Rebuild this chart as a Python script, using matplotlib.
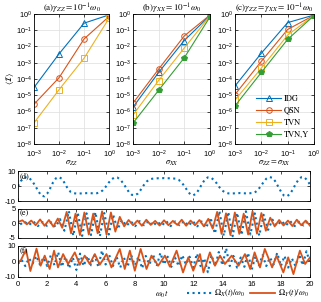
import numpy as np
import matplotlib
matplotlib.use("Agg")
import matplotlib.pyplot as plt
from matplotlib.ticker import NullLocator

plt.rcParams['font.family'] = ['Liberation Sans', 'DejaVu Sans']
plt.rcParams['mathtext.fontset'] = 'stix'
plt.rcParams['font.size'] = 5.5
plt.rcParams['axes.unicode_minus'] = False

# ---- top panels: <I> vs sigma ----
sigma = [1e-3, 1e-2, 1e-1, 1e0]
a_idg = [3e-5, 3.5e-3, 2.7e-1, 0.87]
a_qsn = [2.8e-6, 1.2e-4, 2.9e-2, 0.7]
a_tvn = [2e-7, 2.2e-5, 1.9e-3, 0.55]

b_idg = [1.8e-6, 2.5e-4, 2.3e-2, 0.8]
b_qsn = [3.2e-6, 4e-4, 4.4e-2, 0.85]
b_tvn = [6e-7, 8e-5, 8e-3, 0.75]
b_tvny = [1.9e-7, 2e-5, 2e-3, 0.65]

c_idg = [3.7e-5, 3.8e-3, 0.29, 0.85]
c_qsn = [1.1e-5, 1.2e-3, 0.11, 0.82]
c_tvn = [5e-6, 4.6e-4, 0.05, 0.8]
c_tvny = [2.2e-6, 2.5e-4, 0.027, 0.78]

titles = [r'(a)$\gamma_{ZZ}=10^{-1}\omega_0$',
          r'(b)$\gamma_{XX}=10^{-1}\omega_0$',
          r'(c)$\gamma_{ZZ}=\gamma_{XX}=10^{-1}\omega_0$']
xlabels = [r'$\sigma_{ZZ}$', r'$\sigma_{XX}$', r'$\sigma_{ZZ}=\sigma_{XX}$']

# ---- bottom panels: control fields ----
d_x = [0, 3.5, 5.6, 6.1, 5.2, 3.0, 0.0, -3.5, -6.3, -6.8,
       -5.0, -1.5, 2.5, 5.3, 6.1, 5.0, 2.0, -1.5, -3.8, -4.7,
       -4.9, -4.9, -4.8, -4.7, -4.6, -4.7, -4.8, -4.7, -4.2, -2.8,
       -0.5, 2.2, 4.5, 5.8, 5.8, 4.5, 2.0, -1.0, -4.0, -5.8,
       -6.1, -5.0, -2.5, 0.5, 3.0, 4.5, 5.0, 5.2, 5.3, 5.3,
       5.4, 5.3, 5.3, 5.2, 5.0, 4.3, 2.5, 0.0, -3.0, -5.5,
       -6.1, -5.0, -2.0, 1.5, 4.5, 5.9, 5.8, 4.3, 2.0, -0.8,
       -3.0, -4.3, -4.8, -4.9, -4.8, -4.7, -4.6, -4.7, -4.8, -4.8,
       -4.6, -4.3, -2.8, -0.3, 2.5, 5.0, 6.1, 5.7, 3.5, 0.0,
       -3.5, -6.2, -6.8, -5.5, -2.5, 1.2, 4.3, 6.0, 6.0, 4.0, 1.0]

e_y = [0.5, 1.1, -0.3, 1.0, -0.6, 1.4, -0.8, 1.2, -1.1, 1.7,
       -1.5, 4.0, -3.4, 3.4, -4.0, 3.8, -3.8, 3.4, -3.4, 4.2,
       -3.8, 3.8, -2.8, 2.3, -1.0, 1.2, -0.6, 1.0, -0.8, 1.3,
       -0.5, 0.9, -0.7, 1.1, -0.6, 0.9, -0.5, 1.3, -0.8, 1.0,
       -0.6, 1.2, -1.0, 1.6, -1.8, 4.0, -3.6, 3.5, -4.0, 3.8,
       -3.6, 3.4, -3.8, 4.2, -3.5, 3.6, -2.5, 2.0, -1.0, 1.2,
       -0.7, 1.0, -0.9, 1.3, -0.6, 1.0, -0.8]
e_x = [-0.3, 0.6, -0.5, 0.7, -0.9, 0.5, -0.8, 0.4, -1.2, 1.5,
       -2.5, 4.3, -4.2, 3.8, -4.3, 3.5, -4.0, 3.9, -4.4, 3.6,
       -3.8, 3.0, -2.0, 1.2, -0.8, 0.7, -0.9, 0.8, -0.6, 0.9,
       -0.8, 0.6, -0.7, 0.8, -0.9, 0.7, -0.6, 0.9, -0.8, 0.8,
       -1.0, 0.7, -1.5, 2.0, -3.5, 4.3, -4.2, 4.0, -4.4, 3.7,
       -4.0, 4.2, -3.8, 3.5, -4.2, 3.0, -2.2, 1.3, -0.8, 0.9,
       -0.7, 0.8, -0.9, 0.6, -0.7, 0.9]

f_x = [-1.5, 1.0, -3.0, 2.0, -1.5, 3.5, -2.0, 2.5, -3.0, 4.0,
       -2.5, 6.0, -3.5, 3.0, -4.5, 2.5, -5.5, 5.0, -3.0, 3.5,
       -2.5, 4.0, -3.5, 7.0, -2.0, 4.0, -3.0, 3.0, -4.0, 2.5,
       -3.5, 4.0, -2.5, 3.0, -4.5, 3.5, -2.0, 4.5, -3.0, 5.5,
       -2.0, 3.0, -3.5, 2.5, -3.0, 4.0, -2.0, 3.0, -4.0, 5.0,
       -3.0, 2.0, -7.0, 4.0, -3.0, 6.0, -2.5, 8.5, -3.0, 3.5,
       -4.0, 2.5, -3.5, 5.5, -5.5, 3.0, -2.5, 4.0, -3.0, 2.5,
       -2.0, 5.5, -3.0, 3.5, -4.0, 2.0, -3.0, 4.5, -2.5, 6.5, -1.0]
f_y_t = [0, 0.2, 0.55, 0.85, 1.27, 1.55, 1.83, 2.17, 2.47, 2.74,
         3.09, 3.43, 3.89, 4.23, 4.57, 4.91, 5.26, 5.6, 6.06, 6.4,
         6.97, 7.31, 7.66, 8.0, 8.4, 8.8, 9.14, 9.6, 10.06, 10.4,
         10.86, 11.3, 11.66, 12.0, 12.46, 12.7, 13.14, 13.49, 13.83, 14.17,
         14.63, 15.1, 15.54, 15.9, 16.2, 16.57, 16.9, 17.4, 17.7, 18.17,
         18.5, 18.86, 19.3, 19.66, 20.0]
f_y = [-0.5, 0.8, 7.5, -6.2, 8.2, -2.8, 3.7, -4.9, 6.9, -3.9,
       4.7, -1.7, 5.8, -2.2, 3.7, -1.7, 4.7, -2.2, 4.7, -3.9,
       8.0, -4.9, 6.9, -6.0, 8.0, -4.9, 3.7, -2.8, 3.7, -3.4,
       6.9, -7.1, 2.6, -6.0, 4.7, -7.1, 5.8, -2.8, 3.7, -1.7,
       3.7, -2.8, 4.7, -4.9, 5.8, -3.9, 8.0, -3.9, 3.7, -7.1,
       2.6, -8.2, 6.9, -1.7, 2.6]

blue = (0.0, 0.447, 0.741)
orange = (0.85, 0.325, 0.098)
yellow = (0.929, 0.694, 0.125)
green = (0.2, 0.62, 0.2)

fig = plt.figure(figsize=(3.21, 3.02), dpi=100)

top_pos = [[0.106, 0.523, 0.234, 0.431],
           [0.414, 0.523, 0.240, 0.431],
           [0.732, 0.523, 0.246, 0.431]]
series = [
    [('IDG', a_idg), ('QSN', a_qsn), ('TVN', a_tvn)],
    [('IDG', b_idg), ('QSN', b_qsn), ('TVN', b_tvn), ('TVN,Y', b_tvny)],
    [('IDG', c_idg), ('QSN', c_qsn), ('TVN', c_tvn), ('TVN,Y', c_tvny)],
]
style = {'IDG': (blue, '^', 'none'), 'QSN': (orange, 'o', 'none'),
         'TVN': (yellow, 's', 'none'), 'TVN,Y': (green, 'p', green)}

for i in range(3):
    ax = fig.add_axes(top_pos[i])
    ax.set_xscale('log')
    ax.set_yscale('log')
    for name, vals in series[i]:
        c, m, fc = style[name]
        ax.plot(sigma, vals, color=c, marker=m, mfc=fc, ms=4, lw=0.8,
                mew=0.7, label=name)
    ax.set_xlim(1e-3, 1)
    ax.set_ylim(1e-8, 1)
    ax.set_xticks(sigma)
    ax.set_yticks(10.0 ** np.arange(-8, 1))
    ax.xaxis.set_minor_locator(NullLocator())
    ax.yaxis.set_minor_locator(NullLocator())
    ax.grid(True, color='#dddddd', lw=0.5)
    ax.tick_params(direction='in', length=2, width=0.5, top=True,
                   right=True, pad=1.5, labelsize=5.3)
    ax.tick_params(axis='x', pad=3.5)
    for sp in ax.spines.values():
        sp.set_linewidth(0.6)
    ax.set_title(titles[i], fontsize=6.5, pad=1.5, family='STIXGeneral')
    ax.set_xlabel(xlabels[i], fontsize=6, labelpad=-1)
    if i == 0:
        ax.set_ylabel(r'$\langle\mathcal{I}\rangle$', fontsize=6, labelpad=0)
    if i == 2:
        ax.legend(loc='lower right', frameon=False,
                  prop={'family': 'STIXGeneral', 'size': 6},
                  handlelength=3.0, handletextpad=0.3, labelspacing=0.5,
                  borderaxespad=0.2)

bot_pos = [[0.056, 0.334, 0.910, 0.099],
           [0.056, 0.212, 0.910, 0.096],
           [0.056, 0.083, 0.910, 0.103]]
ylims = [(-10, 10), (-5, 5), (-10, 10)]
yticks = [[-10, 0, 10], [-5, 0, 5], [-10, 0, 10]]
tags = ['(d)', '(e)', '(f)']
bax = []
for i in range(3):
    ax = fig.add_axes(bot_pos[i])
    ax.set_xlim(0, 20)
    ax.set_ylim(*ylims[i])
    ax.set_xticks(np.arange(0, 21, 2))
    ax.set_yticks(yticks[i])
    ax.grid(True, axis='y', color='#dddddd', lw=0.5)
    ax.tick_params(direction='in', length=2, width=0.5, top=True,
                   right=True, pad=1.5, labelsize=5.5)
    ax.tick_params(axis='x', pad=3)
    for sp in ax.spines.values():
        sp.set_linewidth(0.6)
    if i < 2:
        ax.set_xticklabels([])
    ax.text(0.005, 0.97, tags[i], transform=ax.transAxes, va='top',
            ha='left', family='STIXGeneral', fontsize=6)
    bax.append(ax)

t_d = np.linspace(0, 20, len(d_x))
bax[0].plot(t_d, d_x, ls=':', color=blue, lw=1.5)

t_ey = np.linspace(0, 20, len(e_y))
t_ex = np.linspace(0.15, 19.85, len(e_x))
bax[1].plot(t_ex, e_x, ls=':', color=blue, lw=1.5)
bax[1].plot(t_ey, e_y, ls='-', color=orange, lw=1.3)

t_fx = np.linspace(0, 20, len(f_x))
lx, = bax[2].plot(t_fx, f_x, ls=':', color=blue, lw=1.5)
ly, = bax[2].plot(f_y_t, f_y, ls='-', color=orange, lw=1.3)

fig.text(0.505, 0.008, r'$\omega_0 t$', ha='center', va='bottom', fontsize=6)
fig.legend([lx, ly], [r'$\Omega_X(t)/\omega_0$', r'$\Omega_Y(t)/\omega_0$'],
           loc='lower right', bbox_to_anchor=(0.985, -0.015), ncol=2,
           frameon=False, fontsize=6, handlelength=3.0, handletextpad=0.3,
           columnspacing=0.6)

fig.savefig('out.png', dpi=100)
